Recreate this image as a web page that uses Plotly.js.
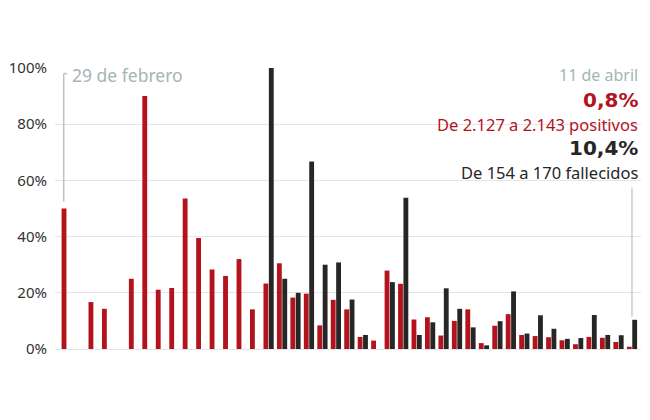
<!DOCTYPE html>
<html>
<head>
<meta charset="utf-8">
<script src="https://cdn.plot.ly/plotly-3.0.1.min.js"></script>
<style>
  html, body { margin: 0; padding: 0; background: #fff; }
  #chart { width: 650px; height: 420px; }
</style>
</head>
<body>
<div id="chart"></div>
<script>
// Days from 29 Feb to 11 Apr
const days = ["29 feb",
  "1 mar","2 mar","3 mar","4 mar","5 mar","6 mar","7 mar","8 mar","9 mar","10 mar",
  "11 mar","12 mar","13 mar","14 mar","15 mar","16 mar","17 mar","18 mar","19 mar","20 mar",
  "21 mar","22 mar","23 mar","24 mar","25 mar","26 mar","27 mar","28 mar","29 mar","30 mar","31 mar",
  "1 abr","2 abr","3 abr","4 abr","5 abr","6 abr","7 abr","8 abr","9 abr","10 abr","11 abr"];

// Daily % increase of positive cases (red)
const positivos = [50, null, 16.7, 14.3, null, 25, 90, 21.1, 21.7, 53.6, 39.5,
  28.3, 26, 32, 14.1, 23.3, 30.5, 18.3, 19.7, 8.4, 17.5,
  14.1, 4.3, 3.0, 27.9, 23.2, 10.5, 11.3, 4.8, 10.0, 14.1, 2.1,
  8.3, 12.4, 5.0, 4.6, 4.2, 3.1, 1.7, 4.3, 4.0, 2.5, 0.8];

// Daily % increase of deaths (black)
const fallecidos = [null, null, null, null, null, null, null, null, null, null, null,
  null, null, null, null, 100, 25, 20, 66.7, 30, 30.8,
  17.6, 5.0, 0, 23.8, 53.8, 5.0, 9.5, 21.6, 14.3, 7.7, 1.3,
  9.9, 20.5, 5.5, 12.0, 7.2, 3.6, 3.9, 12.1, 5.0, 4.9, 10.4];

const yTicks = [0, 20, 40, 60, 80, 100];

// Callout texts
const fechaIni = "29 de febrero";
const fechaFin = "11 de abril";
const pctPos = "0,8%";
const txtPos = "De 2.127 a 2.143 positivos";
const pctFal = "10,4%";
const txtFal = "De 154 a 170 fallecidos";

const RED = "#b3131d";
const DARK = "#262626";
const GREY = "#a5b4b6";
const FONT = "Noto Sans, sans-serif";
const BOLDFONT = "DejaVu Sans, sans-serif";

const traces = [
  { type: "bar", x: days, y: positivos, name: "Positivos",
    marker: { color: RED }, hoverinfo: "x+y" },
  { type: "bar", x: days, y: fallecidos, name: "Fallecidos",
    marker: { color: DARK }, hoverinfo: "x+y" }
];

const lastIdx = days.length - 1;

function rightNote(text, dy, font) {
  return { xref: "paper", yref: "paper", x: 1, y: 1, xanchor: "right", yanchor: "middle",
    xshift: -2, yshift: dy, showarrow: false, borderpad: 0, text: text, font: font };
}

const layout = {
  width: 650, height: 420,
  margin: { l: 55, r: 9, t: 68, b: 71, pad: 0 },
  paper_bgcolor: "#fff", plot_bgcolor: "#fff",
  barmode: "group", bargap: 0.2, bargroupgap: 0.1,
  showlegend: false,
  font: { family: FONT, color: "#333" },
  xaxis: {
    type: "category", range: [-0.87, lastIdx + 0.67],
    showticklabels: false, showgrid: false, zeroline: false, showline: false, ticks: ""
  },
  yaxis: {
    range: [0, 100], tickvals: yTicks, ticktext: yTicks.map(v => v + "%"),
    showgrid: true, gridcolor: "#e3e6e6", gridwidth: 1,
    zeroline: true, zerolinecolor: "#e3e6e6", zerolinewidth: 1,
    showline: false, ticks: "", ticklabelstandoff: 7,
    tickfont: { family: FONT, size: 15, color: "#333" }
  },
  shapes: [
    { type: "line", xref: "x", yref: "y", xsizemode: "pixel", xanchor: 0,
      x0: -3, x1: -3, y0: 52.5, y1: 98, line: { color: "#b8c4c6", width: 1.5 } },
    { type: "line", xref: "x", yref: "y", xsizemode: "pixel", xanchor: 0,
      x0: -3, x1: 0.5, y0: 98, y1: 98, line: { color: "#b8c4c6", width: 1.5 } },
    { type: "line", xref: "x", yref: "y", xsizemode: "pixel", xanchor: lastIdx,
      x0: 0, x1: 0, y0: 11.5, y1: 57.5, line: { color: "#b8c4c6", width: 1.2 } }
  ],
  annotations: [
    { xref: "x", yref: "paper", x: 0, y: 1, xanchor: "left", yanchor: "middle",
      xshift: 4, yshift: -7, showarrow: false, borderpad: 0, text: fechaIni,
      font: { family: FONT, size: 17.5, color: GREY } },
    rightNote(fechaFin, -7, { family: FONT, size: 16, color: GREY }),
    rightNote("<b>" + pctPos + "</b>", -32, { family: BOLDFONT, size: 20, color: RED }),
    rightNote(txtPos, -56, { family: FONT, size: 16.5, color: RED }),
    rightNote("<b>" + pctFal + "</b>", -80, { family: BOLDFONT, size: 20, color: DARK }),
    rightNote(txtFal, -104, { family: FONT, size: 16.5, color: DARK })
  ]
};

Plotly.newPlot("chart", traces, layout, { displayModeBar: false, staticPlot: true });
</script>
</body>
</html>
